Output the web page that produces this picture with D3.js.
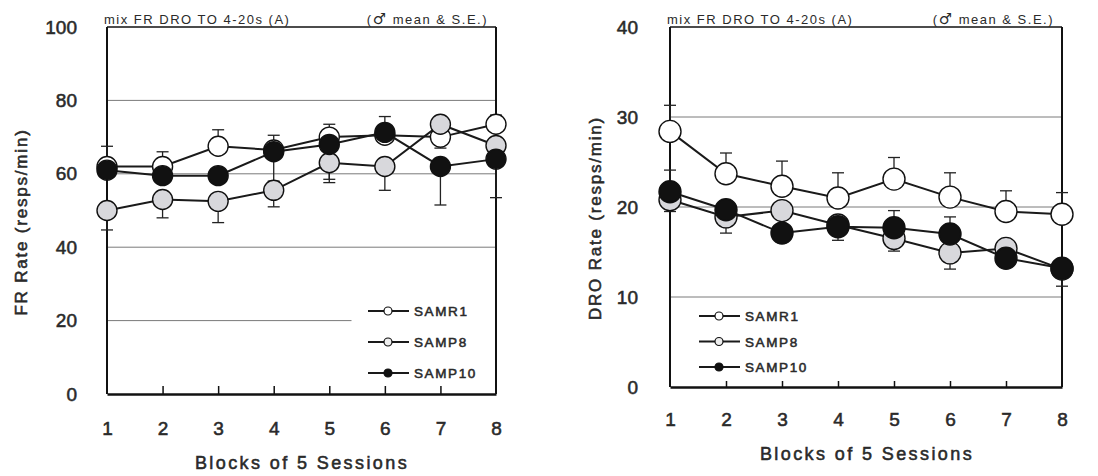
<!DOCTYPE html>
<html>
<head>
<meta charset="utf-8">
<script src="https://cdn.jsdelivr.net/npm/d3@7"></script>
<style>
  body { margin: 0; background: #fff; }
  svg { display: block; }
  text { font-family: "Liberation Sans", Arial, sans-serif; fill: #2a2a2a; }
  .med { stroke: #2a2a2a; stroke-width: 0.55px; }
</style>
</head>
<body>
<svg id="chart" width="1098" height="476"></svg>
<script>
const blocks = [1, 2, 3, 4, 5, 6, 7, 8];
const strains = ['SAMR1', 'SAMP8', 'SAMP10'];
const strainFill = { SAMR1: '#ffffff', SAMP8: '#d8d8dc', SAMP10: '#111111' };

// FR rate (left panel): mean, S.E., and bar direction (1 = up, -1 = down)
const frMean = {
  SAMR1:  [62, 62, 67.5, 66.5, 70, 70.5, 70, 73.5],
  SAMP8:  [50, 53, 52.5, 55.5, 63, 62, 73.5, 67.7],
  SAMP10: [61, 59.5, 59.5, 66, 68, 71.3, 62, 64]
};
const frSE = {
  SAMR1:  [5.5, 4, 4.5, 4, 3.5, 2, 3, 2.5],
  SAMP8:  [5.3, 5, 5.8, 4.5, 5.4, 6.5, 2, 3],
  SAMP10: [2, 2, 2, 8, 9.5, 4.3, 10.5, 10.5]
};
const frDir = {
  SAMR1:  [1, 1, 1, 1, 1, 1, -1, 1],
  SAMP8:  [-1, -1, -1, -1, -1, -1, 1, -1],
  SAMP10: [-1, -1, -1, -1, -1, 1, -1, -1]
};

// DRO rate (right panel)
const droMean = {
  SAMR1:  [28.4, 23.7, 22.3, 21, 23.1, 21.1, 19.5, 19.2],
  SAMP8:  [20.8, 18.9, 19.6, 18, 16.5, 14.9, 15.4, 13.1],
  SAMP10: [21.7, 19.7, 17.1, 17.8, 17.7, 17, 14.3, 13.2]
};
const droSE = {
  SAMR1:  [2.9, 2.3, 2.8, 2.8, 2.4, 2.7, 2.3, 2.4],
  SAMP8:  [1.3, 1.8, 1, 1.7, 1.4, 1.8, 1, 1],
  SAMP10: [2.4, 1, 1, 1, 1.9, 1.9, 1, 2]
};
const droDir = {
  SAMR1:  [1, 1, 1, 1, 1, 1, 1, 1],
  SAMP8:  [-1, -1, -1, -1, -1, -1, -1, -1],
  SAMP10: [1, 1, -1, -1, 1, 1, -1, -1]
};

const titleLeft = 'mix FR DRO TO 4-20s (A)';
const titleRight = ['(', '\u2642', ' mean & S.E.)'];

const svg = d3.select('#chart');
const FONT = '"Liberation Sans", Arial, sans-serif';

function drawPanel(p) {
  const x = d3.scaleLinear().domain([1, 8]).range([p.left, p.right]);
  const y = d3.scaleLinear().domain([0, p.yMax]).range([p.bottom, p.top]);
  const g = svg.append('g');

  // grid lines
  p.grid.forEach(d => {
    g.append('line')
      .attr('x1', x(1)).attr('x2', x(d.to))
      .attr('y1', y(d.v)).attr('y2', y(d.v))
      .attr('stroke', '#7a7a7a').attr('stroke-width', 1);
  });

  // frame
  g.append('line').attr('x1', x(1)).attr('x2', x(8)).attr('y1', p.top).attr('y2', p.top)
    .attr('stroke', '#111').attr('stroke-width', 1.5);
  g.append('line').attr('x1', x(1)).attr('x2', x(1)).attr('y1', p.top).attr('y2', p.bottom)
    .attr('stroke', '#111').attr('stroke-width', 2);
  g.append('line').attr('x1', x(8)).attr('x2', x(8)).attr('y1', p.top).attr('y2', p.bottom)
    .attr('stroke', '#111').attr('stroke-width', 2);

  // bottom axis with inward ticks
  const xAxis = d3.axisBottom(x).tickValues(blocks).tickSize(-p.tick).tickPadding(p.bottomPad)
    .tickSizeOuter(0).tickFormat(d3.format('d'));
  const ax = g.append('g').attr('transform', `translate(0,${p.bottom})`).call(xAxis);
  ax.select('.domain').attr('stroke', '#111').attr('stroke-width', 2.5);
  ax.selectAll('.tick line').attr('stroke', '#111').attr('stroke-width', 1.5);
  ax.selectAll('.tick').filter(d => d === 1 || d === 8).select('line').remove();
  ax.selectAll('.tick text').attr('font-size', 19).attr('class', 'med').attr('fill', '#2a2a2a')
    .style('font-family', FONT);

  // left tick labels
  const yAxis = d3.axisLeft(y).tickValues(p.yTicks).tickSize(0).tickPadding(p.leftPad);
  const ay = g.append('g').attr('transform', `translate(${x(1)},0)`).call(yAxis);
  ay.select('.domain').remove();
  ay.selectAll('.tick text').attr('font-size', 19).attr('class', 'med').attr('fill', '#2a2a2a')
    .style('font-family', FONT);

  // titles
  g.append('text').attr('x', x(1) - 3).attr('y', p.top - 3)
    .attr('font-size', 13).attr('letter-spacing', 1.5).text(titleLeft);
  const tr = g.append('text').attr('x', x(8) - 8).attr('y', p.top - 3).attr('text-anchor', 'end')
    .attr('font-size', 13).attr('letter-spacing', 1.5);
  tr.append('tspan').text(titleRight[0]);
  tr.append('tspan').attr('font-size', 15).style('font-family', '"DejaVu Sans", sans-serif')
    .attr('font-weight', 'bold').text(titleRight[1]);
  tr.append('tspan').text(titleRight[2]);

  g.append('text').attr('x', p.xTitleX).attr('y', p.xTitleY).attr('text-anchor', 'middle')
    .attr('font-size', 18).attr('class', 'med').attr('letter-spacing', 2.4)
    .text('Blocks of 5 Sessions');
  g.append('text')
    .attr('transform', `translate(${p.yTitleX},${p.yTitleY}) rotate(-90)`)
    .attr('text-anchor', 'middle').attr('font-size', 17).attr('class', 'med')
    .attr('letter-spacing', 1.8).text(p.yTitle);

  // error bars
  strains.forEach(s => {
    blocks.forEach((b, i) => {
      const m = p.mean[s][i], e = p.se[s][i] * p.dir[s][i];
      g.append('line').attr('x1', x(b)).attr('x2', x(b))
        .attr('y1', y(m)).attr('y2', y(m + e))
        .attr('stroke', '#222').attr('stroke-width', 1.3);
      g.append('line').attr('x1', x(b) - 6).attr('x2', x(b) + 6)
        .attr('y1', y(m + e)).attr('y2', y(m + e))
        .attr('stroke', '#222').attr('stroke-width', 1.3);
    });
  });

  // lines and markers
  const line = d3.line().x((d, i) => x(blocks[i])).y(d => y(d));
  strains.forEach(s => {
    g.append('path').datum(p.mean[s]).attr('d', line)
      .attr('fill', 'none').attr('stroke', '#1a1a1a').attr('stroke-width', 2);
    g.selectAll(null).data(p.mean[s]).join('circle')
      .attr('cx', (d, i) => x(blocks[i])).attr('cy', d => y(d)).attr('r', p.r)
      .attr('fill', strainFill[s]).attr('stroke', '#111').attr('stroke-width', 1.4);
  });

  // legend
  strains.forEach((s, i) => {
    const ly = p.legY + i * p.legStep;
    g.append('line').attr('x1', p.legX).attr('x2', p.legX + 41).attr('y1', ly).attr('y2', ly)
      .attr('stroke', '#1a1a1a').attr('stroke-width', 2);
    g.append('circle').attr('cx', p.legX + 20).attr('cy', ly).attr('r', 4)
      .attr('fill', s === 'SAMP10' ? '#111' : (s === 'SAMP8' ? '#eee' : '#fff'))
      .attr('stroke', '#111').attr('stroke-width', 1.2);
    g.append('text').attr('x', p.legX + 46).attr('y', ly + 5)
      .attr('font-size', 13.5).attr('class', 'med').attr('letter-spacing', 1.6).text(s);
  });
}

drawPanel({
  left: 107, right: 496, top: 27, bottom: 394, yMax: 100,
  yTicks: [0, 20, 40, 60, 80, 100], leftPad: 30, bottomPad: 28, tick: 8,
  grid: [{ v: 80, to: 8 }, { v: 60, to: 8 }, { v: 40, to: 8 }, { v: 20, to: 5.4 }],
  mean: frMean, se: frSE, dir: frDir, r: 10,
  xTitleX: 302, xTitleY: 469, yTitleX: 27, yTitleY: 222, yTitle: 'FR Rate (resps/min)',
  legX: 368, legY: 311, legStep: 31
});

drawPanel({
  left: 670, right: 1062, top: 27, bottom: 387, yMax: 40,
  yTicks: [0, 10, 20, 30, 40], leftPad: 32, bottomPad: 26, tick: 6,
  grid: [{ v: 30, to: 8 }, { v: 20, to: 8 }, { v: 10, to: 8 }],
  mean: droMean, se: droSE, dir: droDir, r: 11,
  xTitleX: 867, xTitleY: 460, yTitleX: 601, yTitleY: 218, yTitle: 'DRO Rate (resps/min)',
  legX: 699, legY: 316, legStep: 25.5
});
</script>
</body>
</html>
